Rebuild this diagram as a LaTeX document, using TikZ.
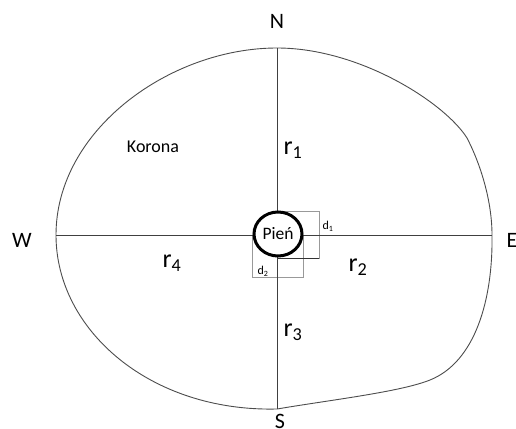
\documentclass[tikz,border=0pt]{standalone}
\usepackage{fontspec}
\setmainfont{Carlito}
\usetikzlibrary{shapes.geometric}

\begin{document}
\begin{tikzpicture}[x=1pt, y=-1pt,
  lbl/.style={inner sep=0pt, font=\fontsize{22}{22}\selectfont},
  rad/.style={inner sep=0pt, font=\fontsize{26}{26}\selectfont},
  dd/.style={inner sep=0pt, font=\fontsize{12}{12}\selectfont},
  ax/.style={black!75, line width=0.9pt},
  box/.style={gray!80, line width=0.9pt}]
\useasboundingbox (0,0) rectangle (516,428);
\coordinate (top) at (277,48);
\coordinate (bot) at (277,409);
\coordinate (lft) at (56,235);
\coordinate (rgt) at (492,235);
% crown outline
\draw[black!70, line width=0.9pt] (top)
  .. controls (360,48) and (445,103) .. (467,138)
  .. controls (480,163) and (492,200) .. (rgt)
  .. controls (493,300) and (475,362) .. (430,380)
  .. controls (400,392) and (330,400) .. (bot)
  .. controls (150,412) and (56,330) .. (lft)
  .. controls (56,130) and (170,48) .. (top) -- cycle;
% measuring boxes
\draw[box] (277,211) rectangle (319,258);
\draw[box] (252,235) rectangle (303,277);
\draw[black!80, line width=0.9pt] (277,258) -- (319,258);
\draw[ax] (top) -- (bot);
\draw[ax] (lft) -- (rgt);
\node[draw, ellipse, line width=3pt, fill=white, minimum width=48pt,
  minimum height=44pt, inner sep=0pt, font=\fontsize{17.5}{17.5}\selectfont]
  (pien) at (278,234) {Pień};
% labels
\node[lbl] (n) at (277,21) {N};
\node[lbl] (s) at (280,421) {S};
\node[lbl] (w) at (22,240) {W};
\node[lbl] (e) at (512,240) {E};
\node[inner sep=0pt, font=\fontsize{18}{18}\selectfont] (korona) at (153,147) {Korona};
\node[rad] (r1) at (293,150) {r\textsubscript{1}};
\node[rad] (r2) at (358,267) {r\textsubscript{2}};
\node[rad] (r3) at (293,332) {r\textsubscript{3}};
\node[rad] (r4) at (172,263) {r\textsubscript{4}};
\node[dd] (d1) at (328,226) {d\textsubscript{1}};
\node[dd] (d2) at (263,271) {d\textsubscript{2}};
\end{tikzpicture}
\end{document}
